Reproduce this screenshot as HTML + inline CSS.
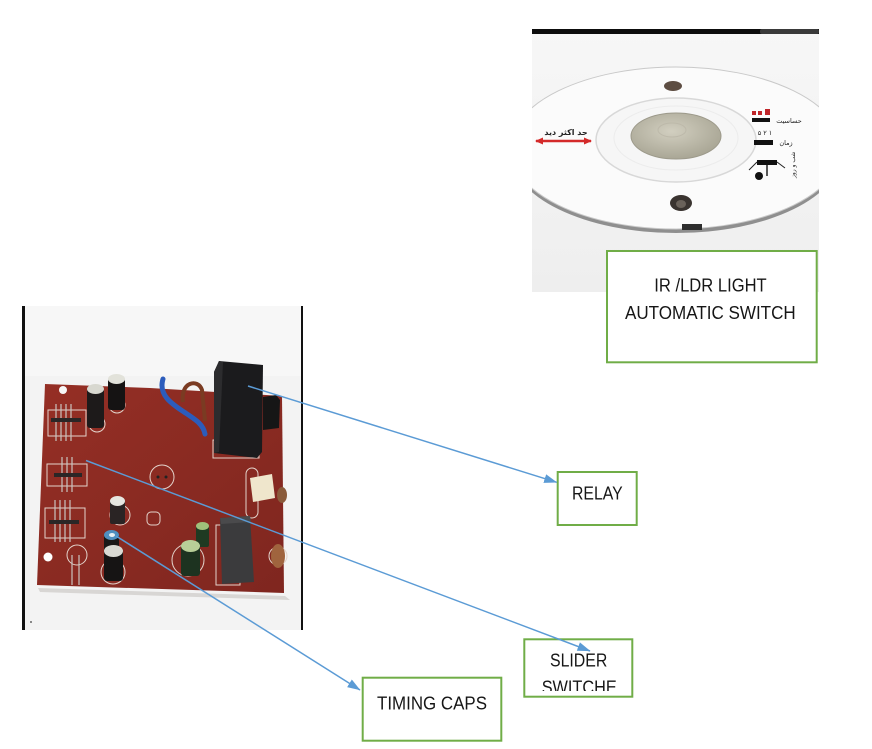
<!DOCTYPE html>
<html><head><meta charset="utf-8"><style>
html,body{margin:0;padding:0;background:#fff;}
svg{display:block;}
text{font-family:"Liberation Sans","DejaVu Sans",sans-serif;}
</style></head><body>
<svg width="872" height="749" viewBox="0 0 872 749" xmlns="http://www.w3.org/2000/svg">
<defs>
 <clipPath id="cp1"><rect x="532" y="29" width="287" height="263"/></clipPath>
 <clipPath id="cpS"><rect x="524" y="640" width="109" height="51"/></clipPath>
 <marker id="ah" markerWidth="13" markerHeight="9" refX="12.5" refY="4.5" orient="auto" markerUnits="userSpaceOnUse"><path d="M0,0 L13,4.5 L0,9 z" fill="#5b9bd5"/></marker>
 <marker id="ra" markerWidth="8" markerHeight="7" refX="7" refY="3.5" orient="auto" markerUnits="userSpaceOnUse"><path d="M0,0 L8,3.5 L0,7 z" fill="#d42a2a"/></marker>
 <marker id="rb" markerWidth="8" markerHeight="7" refX="1" refY="3.5" orient="auto" markerUnits="userSpaceOnUse"><path d="M8,0 L0,3.5 L8,7 z" fill="#d42a2a"/></marker>
 <radialGradient id="dome" cx="45%" cy="40%" r="65%"><stop offset="0" stop-color="#d2cfc0"/><stop offset="1" stop-color="#a6a392"/></radialGradient>
 <linearGradient id="bg1" x1="0" y1="0" x2="0" y2="1"><stop offset="0" stop-color="#f7f7f7"/><stop offset="1" stop-color="#eeeeee"/></linearGradient>
 <linearGradient id="board" x1="0" y1="0" x2="1" y2="1"><stop offset="0" stop-color="#952f25"/><stop offset="1" stop-color="#7f261f"/></linearGradient>
</defs>

<!-- ===== Top photo (sensor disk) ===== -->
<g clip-path="url(#cp1)">
 <rect x="532" y="29" width="287" height="263" fill="url(#bg1)"/>
 <rect x="532" y="29" width="287" height="5" fill="#0d0d0d"/>
 <rect x="760" y="29" width="59" height="5" rx="2" fill="#3a3a3a"/>
 <!-- disk rim / thickness -->
 <ellipse cx="676" cy="152" rx="166" ry="81" fill="#8f8f8f"/>
 <ellipse cx="676" cy="148" rx="166" ry="81" fill="#fbfbfb" stroke="#c9c9c9" stroke-width="1"/>
 <!-- inner annulus -->
 <ellipse cx="676" cy="140" rx="80" ry="42" fill="#f6f6f6" stroke="#d8d8d8" stroke-width="1.5"/>
 <ellipse cx="676" cy="138" rx="62" ry="32" fill="none" stroke="#ececec" stroke-width="1"/>
 <!-- dome -->
 <ellipse cx="676" cy="136" rx="45" ry="23" fill="url(#dome)" stroke="#9c998a" stroke-width="1"/>
 <ellipse cx="672" cy="130" rx="14" ry="7" fill="none" stroke="#bdb9aa" stroke-width="1"/>
 <!-- holes -->
 <ellipse cx="673" cy="86" rx="9" ry="5" fill="#5d4d42"/>
 <ellipse cx="681" cy="203" rx="11" ry="8" fill="#3a3430"/>
 <ellipse cx="681" cy="204" rx="5" ry="4" fill="#6a625a"/>
 <rect x="682" y="224" width="20" height="6" fill="#2e2e2e"/>
 <!-- red arrow + arabic label -->
 <line x1="536" y1="141" x2="591" y2="141" stroke="#d42a2a" stroke-width="2.5" marker-end="url(#ra)" marker-start="url(#rb)"/>
 <text x="566" y="135" font-size="8" font-weight="bold" fill="#222" text-anchor="middle" style="font-family:'DejaVu Sans',sans-serif">حد اکثر دید</text>
 <!-- right control labels -->
 <rect x="752" y="111" width="4" height="4" fill="#c0262a"/>
 <rect x="758" y="111" width="4" height="4" fill="#c0262a"/>
 <rect x="765" y="109" width="5" height="6" fill="#c0262a"/>
 <rect x="752" y="118" width="18" height="4" fill="#111"/>
 <text x="789" y="123" font-size="6.5" fill="#222" text-anchor="middle" style="font-family:'DejaVu Sans',sans-serif">حساسیت</text>
 <text x="765" y="135" font-size="6.5" fill="#222" text-anchor="middle" style="font-family:'DejaVu Sans',sans-serif">۵ ۲ ۱</text>
 <rect x="754" y="140" width="19" height="5" fill="#111"/>
 <text x="786" y="145" font-size="6.5" fill="#222" text-anchor="middle" style="font-family:'DejaVu Sans',sans-serif">زمان</text>
 <rect x="757" y="160" width="20" height="5" fill="#111"/>
 <line x1="757" y1="162" x2="749" y2="170" stroke="#222" stroke-width="1"/>
 <line x1="777" y1="162" x2="785" y2="168" stroke="#222" stroke-width="1"/>
 <line x1="767" y1="165" x2="767" y2="176" stroke="#222" stroke-width="1.5"/>
 <circle cx="759" cy="176" r="4" fill="#111"/>
 <text x="0" y="0" font-size="6" fill="#222" transform="translate(795,178) rotate(-90)" style="font-family:'DejaVu Sans',sans-serif">شب و روز</text>
</g>

<!-- ===== PCB photo ===== -->
<rect x="22" y="306" width="281" height="324" fill="#f3f3f3"/>
<rect x="22" y="306" width="281" height="70" fill="#f7f7f7"/>
<rect x="22" y="306" width="3" height="324" fill="#111"/>
<rect x="301" y="306" width="2" height="324" fill="#111"/>
<circle cx="31" cy="622" r="1" fill="#666"/>
<!-- board shadow -->
<polygon points="38,588 285,596 290,600 40,592" fill="#d8d6d4"/>
<!-- board -->
<polygon points="45,384 150,388 282,396 284,593 37,585" fill="url(#board)"/>
<!-- holes -->
<circle cx="63" cy="390" r="4" fill="#f6f6f6"/>
<circle cx="48" cy="557" r="4.5" fill="#ffffff"/>
<!-- silkscreen blocks -->
<g stroke="#e3d3cb" stroke-width="1" fill="none">
 <rect x="48" y="410" width="38" height="26"/>
 <rect x="47" y="464" width="40" height="22"/>
 <rect x="45" y="508" width="40" height="30"/>
 <circle cx="162" cy="477" r="12"/>
 <rect x="147" y="512" width="13" height="13" rx="4"/>
 <circle cx="97" cy="424" r="8"/>
 <circle cx="117" cy="405" r="8"/>
 <circle cx="120" cy="515" r="10"/>
 <circle cx="113" cy="572" r="12"/>
 <circle cx="188" cy="560" r="16"/>
 <rect x="213" y="440" width="46" height="18"/>
 <rect x="216" y="525" width="24" height="60"/>
 <rect x="246" y="468" width="12" height="50" rx="6"/>
 <circle cx="77" cy="555" r="10"/>
 <circle cx="278" cy="556" r="9"/>
</g>
<!-- pin headers -->
<g stroke="#c9c4c0" stroke-width="1.2">
 <line x1="56" y1="404" x2="56" y2="441"/><line x1="61" y1="404" x2="61" y2="441"/><line x1="66" y1="404" x2="66" y2="441"/><line x1="71" y1="404" x2="71" y2="441"/>
 <line x1="62" y1="457" x2="62" y2="492"/><line x1="67" y1="457" x2="67" y2="492"/><line x1="72" y1="457" x2="72" y2="492"/>
 <line x1="55" y1="500" x2="55" y2="542"/><line x1="60" y1="500" x2="60" y2="542"/><line x1="65" y1="500" x2="65" y2="542"/><line x1="70" y1="500" x2="70" y2="542"/>
 <line x1="72" y1="555" x2="72" y2="585"/><line x1="79" y1="555" x2="79" y2="585"/>
</g>
<g fill="#2a2626">
 <rect x="51" y="418" width="30" height="4"/>
 <rect x="54" y="473" width="28" height="4"/>
 <rect x="49" y="520" width="30" height="4"/>
</g>
<circle cx="158" cy="477" r="1.5" fill="#222"/><circle cx="166" cy="477" r="1.5" fill="#222"/>
<!-- wires -->
<path d="M163,379 C158,395 172,404 184,412 S203,424 205,434" stroke="#2c5cbc" stroke-width="5" fill="none" stroke-linecap="round"/>
<path d="M183,402 C180,382 198,378 202,390 L205,421" stroke="#7a3b22" stroke-width="4" fill="none"/>
<!-- tall caps -->
<rect x="87" y="388" width="17" height="40" rx="3" fill="#1d1a1a"/>
<ellipse cx="95.5" cy="389" rx="8.5" ry="5" fill="#d8d8d0"/>
<rect x="108" y="378" width="17" height="32" rx="3" fill="#151313"/>
<ellipse cx="116.5" cy="379" rx="8.5" ry="5" fill="#e2e2da"/>
<!-- relay -->
<polygon points="219,361 263,365 262,452 257,458 214,453 214,372" fill="#1b1b1d"/>
<polygon points="214,372 219,361 223,362 219,452 214,453" fill="#2c2c2e"/>
<path d="M263,397 L276,395 L280,400 L279,428 L263,430 z" fill="#161616"/>
<!-- small caps -->
<rect x="110" y="500" width="15" height="24" rx="2" fill="#2a2424"/>
<ellipse cx="117.5" cy="501" rx="7.5" ry="5" fill="#e6e6e0"/>
<rect x="104" y="534" width="15" height="20" rx="2" fill="#1a1818"/>
<ellipse cx="111.5" cy="535" rx="7.5" ry="5" fill="#4f8fc0"/>
<ellipse cx="112" cy="535" rx="3" ry="2" fill="#e8f0f4"/>
<rect x="104" y="550" width="19" height="31" rx="3" fill="#161414"/>
<ellipse cx="113.5" cy="551" rx="9.5" ry="6" fill="#d9d9d3"/>
<!-- green caps -->
<rect x="196" y="525" width="13" height="22" rx="2" fill="#1f3a22"/>
<ellipse cx="202.5" cy="526" rx="6.5" ry="4" fill="#9fc07a"/>
<rect x="181" y="545" width="19" height="31" rx="3" fill="#1d3320"/>
<ellipse cx="190.5" cy="546" rx="9.5" ry="6" fill="#b8cf98"/>
<!-- X2 cap -->
<polygon points="220,518 250,516 254,582 222,584" fill="#3b3b3d"/>
<polygon points="220,518 250,516 251,522 221,524" fill="#4a4a4c"/>
<!-- film cap -->
<polygon points="250,478 272,474 275,498 253,502" fill="#efe6cc"/>
<ellipse cx="282" cy="495" rx="5" ry="8" fill="#8a5a3a"/>
<ellipse cx="278" cy="556" rx="7" ry="12" fill="#a0643e"/>

<!-- ===== Boxes ===== -->
<g fill="#fff" stroke="#70ad47" stroke-width="2">
 <rect x="607" y="251" width="209.7" height="111.3"/>
 <rect x="557.7" y="472" width="79" height="53"/>
 <rect x="524.3" y="639.3" width="108" height="57.4"/>
 <rect x="362.7" y="677.7" width="138.6" height="63"/>
</g>
<g fill="#161616" font-size="18">
 <text x="654.3" y="291.7" textLength="112.4" lengthAdjust="spacingAndGlyphs">IR /LDR LIGHT</text>
 <text x="625" y="319" textLength="170.7" lengthAdjust="spacingAndGlyphs">AUTOMATIC SWITCH</text>
 <text x="572" y="499.3" textLength="50.7" lengthAdjust="spacingAndGlyphs">RELAY</text>
 <text x="550" y="666.7" textLength="57.3" lengthAdjust="spacingAndGlyphs">SLIDER</text>
 <g clip-path="url(#cpS)"><text x="541.7" y="693.7" textLength="75" lengthAdjust="spacingAndGlyphs">SWITCHE</text></g>
 <text x="377" y="709.3" textLength="110" lengthAdjust="spacingAndGlyphs">TIMING CAPS</text>
</g>

<!-- ===== Connectors ===== -->
<g stroke="#5b9bd5" stroke-width="1.5" fill="none">
 <line x1="248" y1="386" x2="556.7" y2="482.3" marker-end="url(#ah)"/>
 <line x1="86" y1="460.5" x2="590" y2="651" marker-end="url(#ah)"/>
 <line x1="116" y1="536" x2="360" y2="690" marker-end="url(#ah)"/>
</g>
</svg>
</body></html>
